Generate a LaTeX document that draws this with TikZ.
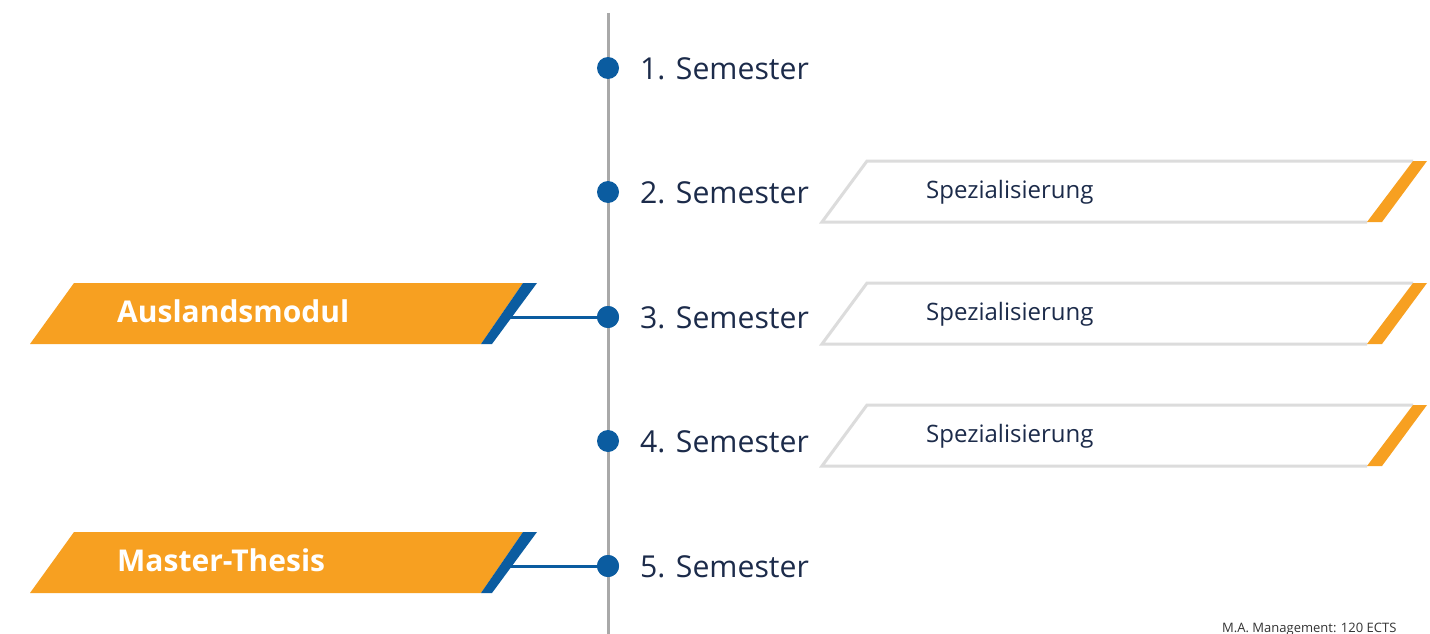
\documentclass[tikz,border=0pt]{standalone}
\usepackage{fontspec}
\setmainfont{Open Sans}
\definecolor{orng}{HTML}{F7A021}
\definecolor{blu}{HTML}{0B5CA0}
\definecolor{navy}{HTML}{1C2B4A}
\definecolor{axis}{HTML}{A9A9A9}
\definecolor{outl}{HTML}{DCDCDC}
\definecolor{foot}{HTML}{333333}
\begin{document}
\begin{tikzpicture}[x=1pt,y=-1pt,
  dot/.style={circle,fill=blu,inner sep=0pt,minimum size=22pt},
  semlabel/.style={anchor=west,text=navy,font=\fontsize{30.2}{36}\selectfont,inner sep=0pt},
  spezlabel/.style={anchor=west,text=navy,font=\fontsize{24}{29}\selectfont,inner sep=0pt},
  boxlabel/.style={anchor=west,text=white,font=\fontsize{30}{36}\selectfont\bfseries,inner sep=0pt},
  link/.style={draw=blu,line width=3pt},
  outline/.style={draw=outl,line width=3pt,line join=miter}]
\useasboundingbox (0,0) rectangle (1430,634);
\fill[white] (0,0) rectangle (1430,634);
% axis
\coordinate (atop) at (608,13);
\coordinate (abot) at (608,634);
\draw[axis,line width=3pt] (atop) -- (abot);
% dots and labels
\foreach \i/\y in {1/68,2/192,3/317,4/441,5/566}{
  \node[dot] (d\i) at (608,\y) {};
  \node[semlabel] (s\i) at (640,\y+1) {\i. Semester};
}
% Spezialisierung boxes
\foreach \i/\t in {2/161,3/283,4/405}{
  \pgfmathsetmacro{\b}{\t+61}
  \draw[outline] (1413,\t) -- (867,\t) -- (822,\b) -- (1367,\b);
  \fill[orng] (1413,\t) -- (1427,\t) -- (1382,\b) -- (1367,\b) -- cycle;
  \node[spezlabel] (z\i) at (926,\t+31) {Spezialisierung};
}
% orange boxes
\foreach \n/\t/\txt in {a/283/Auslandsmodul,m/532/Master-Thesis}{
  \pgfmathsetmacro{\b}{\t+61}
  \fill[orng] (74,\t) -- (523,\t) -- (481,\b) -- (30,\b) -- cycle;
  \fill[blu] (523,\t) -- (537,\t) -- (492,\b) -- (481,\b) -- cycle;
  \coordinate (\n end) at (510,\t+34);
  \node[boxlabel] (\n) at (117,\t+28) {\txt};
}
\draw[link] (aend) -- (d3.center);
\draw[link] (mend) -- (d5.center);
\node[dot] at (d3) {};
\node[dot] at (d5) {};
% footer
\node[anchor=base west,text=foot,font=\fontsize{13}{15}\selectfont,inner sep=0pt] (ft) at (1222,632) {M.A. Management: 120 ECTS};
\end{tikzpicture}
\end{document}
